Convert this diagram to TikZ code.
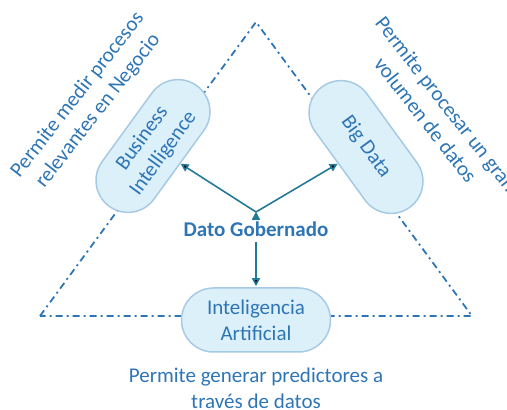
\documentclass[tikz,border=0pt]{standalone}
\usepackage{fontspec}
\setmainfont{Carlito}
\usetikzlibrary{shapes.misc,arrows.meta}

\definecolor{txtblue}{HTML}{2E75B6}
\definecolor{arrowteal}{HTML}{237A98}
\definecolor{pillfill}{HTML}{DCF0FA}
\definecolor{pillline}{HTML}{A6CAE4}

\tikzset{
  pill/.style={shape=rounded rectangle,draw=pillline,fill=pillfill,line width=1.5pt,
    minimum width=153pt,minimum height=64pt,inner sep=2pt,align=center,text=txtblue,
    font=\fontsize{21}{26}\selectfont},
  note/.style={align=center,text=txtblue,font=\fontsize{21}{26}\selectfont},
  link/.style={-{Triangle[length=8pt,width=8pt]},draw=arrowteal,line width=1.6pt},
  frame/.style={draw=txtblue,line width=1.8pt,dash pattern=on 7pt off 4pt on 2pt off 4pt}
}

\begin{document}
\begin{tikzpicture}[x=1pt,y=1pt]
\useasboundingbox (0,0) rectangle (507,410);

\coordinate (apex) at (256,388);
\coordinate (lc) at (40,94);
\coordinate (rc) at (472,94);
\coordinate (v) at (256,198);

\draw[frame] (lc) -- (apex) -- (rc) -- cycle;

\node[pill,rotate=54] (bi) at (153,264) {Business\\Intelligence};
\node[pill,rotate=-54] (bd) at (366,263) {Big Data};
\node[pill] (ia) at (256,90) {Inteligencia\\Artificial};

\node[note,font=\fontsize{21}{26}\selectfont\bfseries] (dato) at (256,181) {Dato Gobernado};

\node[note,rotate=52] (t1) at (88,307) {Permite medir procesos\\relevantes en Negocio};
\node[note,rotate=-52] (t2) at (436,298) {Permite procesar un gran\\volumen de datos};
\node[note] (t3) at (256,22) {Permite generar predictores a\\través de datos};

\path[link] (v) edge (bi);
\path[link] (v) edge (bd);
\path[link,shorten <=2pt,shorten >=1pt] (dato) edge (ia);
\end{tikzpicture}
\end{document}
